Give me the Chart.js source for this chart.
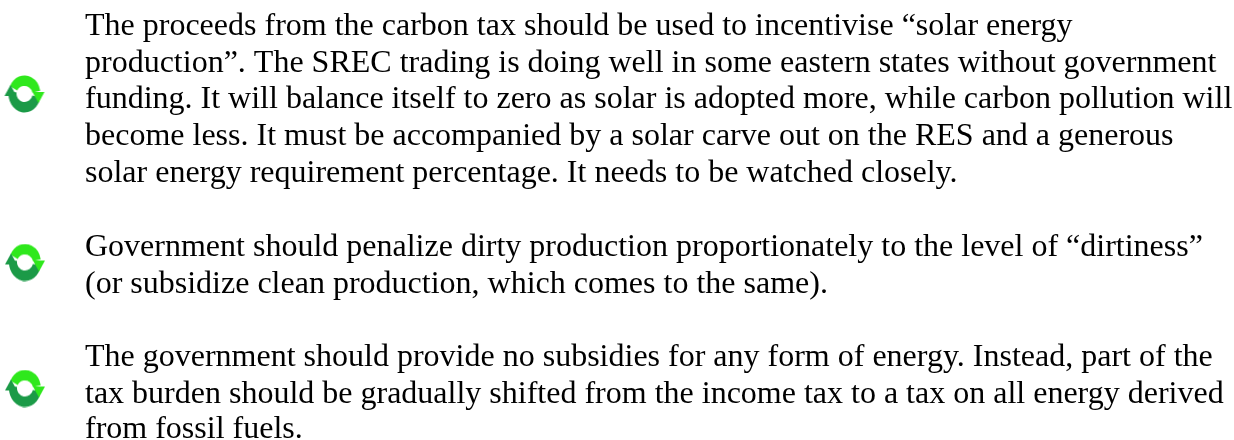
<!DOCTYPE html>
<html lang="en">
<head>
  <meta charset="UTF-8" />
  <title>Energy policy comments</title>
  <script src="https://cdn.jsdelivr.net/npm/chart.js"></script>
  <style>
    html, body { margin: 0; padding: 0; background: #fff; }
    canvas { display: block; }
  </style>
</head>
<body>
  <canvas id="chart" width="1234" height="440"></canvas>

  <script>
    const textLines = [
      'The proceeds from the carbon tax should be used to incentivise “solar energy',
      'production”. The SREC trading is doing well in some eastern states without government',
      'funding. It will balance itself to zero as solar is adopted more, while carbon pollution will',
      'become less. It must be accompanied by a solar carve out on the RES and a generous',
      'solar energy requirement percentage. It needs to be watched closely.',
      'Government should penalize dirty production proportionately to the level of “dirtiness”',
      '(or subsidize clean production, which comes to the same).',
      'The government should provide no subsidies for any form of energy. Instead, part of the',
      'tax burden should be gradually shifted from the income tax to a tax on all energy derived',
      'from fossil fuels.'
    ];
    const lineX = [85, 85, 85, 85, 85, 85, 85, 85, 85, 85];
    const lineY = [35, 72, 108, 145, 182, 256, 293, 366, 403, 438];
    const iconX = [24.5, 25, 25];
    const iconY = [94, 262.5, 388.5];

    // round arrow icon, drawn once and used as the point style
    function makeIcon() {
      const c = document.createElement('canvas');
      c.width = 42;
      c.height = 38;
      const g = c.getContext('2d');
      const cx = 21, cy = 19;

      function ringPart(color, from, to) {
        g.fillStyle = color;
        g.beginPath();
        g.ellipse(cx, cy, 16, 18.5, 0, from, to);
        g.ellipse(cx, cy, 8, 8, 0, to, from, true);
        g.closePath();
        g.fill();
      }
      function head(color, x1, x2, y, tipX, tipY) {
        g.fillStyle = color;
        g.beginPath();
        g.moveTo(cx + x1, cy + y);
        g.lineTo(cx + x2, cy + y);
        g.lineTo(cx + tipX, cy + tipY);
        g.closePath();
        g.fill();
      }

      const rad = Math.PI / 180;
      ringPart('#1b9a47', 10 * rad, 190 * rad);
      ringPart('#2fe81c', 205 * rad, 350 * rad);
      head('#1b9a47', -20, -8, 2, -14, -9);
      head('#2fe81c', 8, 20, -2, 14, 9);
      return c;
    }

    const paragraphText = {
      id: 'paragraphText',
      afterDatasetsDraw(chart) {
        const { ctx, scales } = chart;
        ctx.save();
        ctx.fillStyle = '#000';
        ctx.font = '32px "Liberation Serif"';
        ctx.textBaseline = 'alphabetic';
        textLines.forEach((line, i) => {
          ctx.fillText(line, scales.x.getPixelForValue(lineX[i]), scales.y.getPixelForValue(lineY[i]));
        });
        ctx.restore();
      }
    };

    new Chart(document.getElementById('chart'), {
      type: 'scatter',
      data: {
        datasets: [{
          data: iconX.map((x, i) => ({ x: x, y: iconY[i] })),
          pointStyle: makeIcon(),
          pointRadius: 20
        }]
      },
      options: {
        responsive: false,
        animation: false,
        layout: { padding: 0, autoPadding: false },
        plugins: { legend: { display: false }, tooltip: { enabled: false } },
        scales: {
          x: { display: false, min: 0, max: 1234 },
          y: { display: false, min: 0, max: 440, reverse: true }
        }
      },
      plugins: [paragraphText]
    });
  </script>
</body>
</html>
